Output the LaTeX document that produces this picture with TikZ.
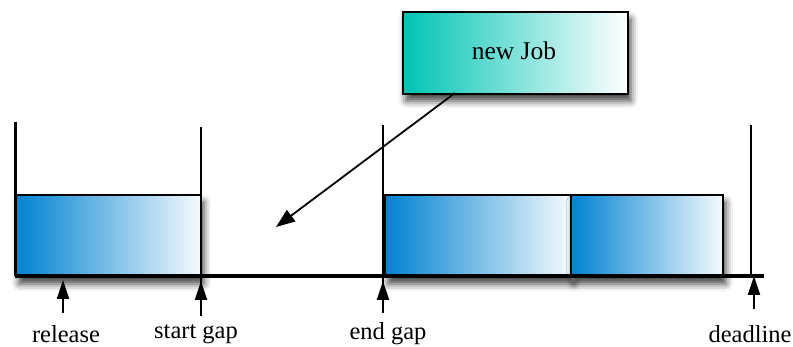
\documentclass[tikz,border=0pt]{standalone}
\usepackage{fontspec}
\setmainfont{Liberation Serif}
\usetikzlibrary{arrows.meta,shadows.blur}
\definecolor{jobblue}{RGB}{0,130,210}
\definecolor{newteal}{RGB}{0,196,180}
\tikzset{
  jobbox/.style={draw=black, line width=1.6pt, inner sep=0pt, anchor=north west,
    left color=jobblue, right color=white!96!jobblue,
    blur shadow={shadow xshift=3pt, shadow yshift=-7pt, shadow blur radius=7pt, shadow opacity=75}},
  newbox/.style={jobbox, left color=newteal, right color=white},
  axis/.style={line width=3.2pt},
  marker/.style={line width=1.4pt},
  pointer/.style={line width=1.8pt, -{Triangle[length=19pt,width=14pt]}},
  moment/.style={line width=1.8pt, -{Triangle[length=19pt,width=12pt]}},
  lbl/.style={font=\fontsize{24.5}{28}\selectfont, inner sep=0pt}
}
\begin{document}
\begin{tikzpicture}[x=1pt,y=-1pt]
\useasboundingbox (0,0) rectangle (793,347);

% scheduled jobs
\node[jobbox, minimum width=185pt, minimum height=82pt] (j1) at (15,194) {};
\node[jobbox, minimum width=186pt, minimum height=82pt] (j2) at (384,194) {};
\node[jobbox, minimum width=152pt, minimum height=82pt] (j3) at (570,194) {};

% incoming job
\node[newbox, minimum width=225pt, minimum height=82pt] (nj) at (402,11) {};
\node (njt) at (514,51) {\fontsize{25.5}{28}\selectfont new Job};

% time axis and boundaries
\coordinate (a0) at (15,276);
\coordinate (a1) at (764,276);
\draw[axis] (a0) -- (a1);
\coordinate (rtop) at (15,122);
\draw[line width=3pt] (rtop) -- (a0);
\coordinate (sgt) at (201,127);
\coordinate (sgb) at (201,285);
\draw[marker] (sgt) -- (sgb);
\coordinate (egt) at (383,125);
\coordinate (egb) at (383,285);
\draw[marker] (egt) -- (egb);
\coordinate (dlt) at (751,125);
\coordinate (dlb) at (751,278);
\draw[marker] (dlt) -- (dlb);

% insertion pointer
\coordinate (gap) at (276,227);
\coordinate (njs) at (455,93);
\draw[pointer] (njs) -- (gap);

% time marks
\coordinate (rl0) at (63,313);  \coordinate (rl1) at (63,280);
\coordinate (sg0) at (201,316); \coordinate (sg1) at (201,281);
\coordinate (eg0) at (383,313); \coordinate (eg1) at (383,281);
\coordinate (dl0) at (754,309); \coordinate (dl1) at (754,276);
\draw[moment] (rl0) -- (rl1);
\draw[moment] (sg0) -- (sg1);
\draw[moment] (eg0) -- (eg1);
\draw[moment] (dl0) -- (dl1);

\node[lbl] (lr) at (66,334) {release};
\node[lbl] (ls) at (196,334) {start gap};
\node[lbl] (le) at (388,334) {end gap};
\node[lbl] (ld) at (750,334) {deadline};
\end{tikzpicture}
\end{document}
